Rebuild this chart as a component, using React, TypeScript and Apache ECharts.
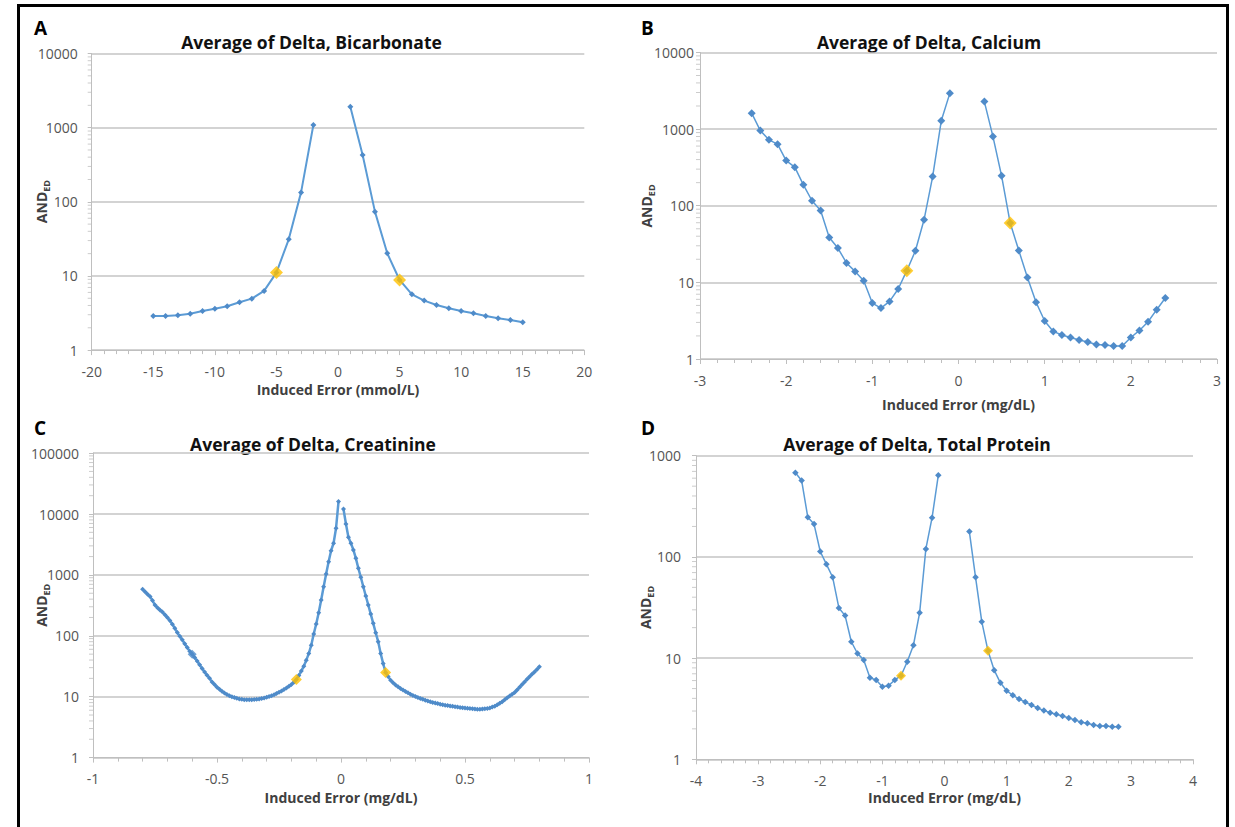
import React, { useEffect, useRef } from "react";
import * as echarts from "echarts";

const FONT = '"Open Sans", "Noto Sans", sans-serif';

// ---------- Panel A: Bicarbonate ----------
const bicarbX = [-15, -14, -13, -12, -11, -10, -9, -8, -7, -6, -5, -4, -3, -2, -1, 0, 1, 2, 3, 4, 5, 6, 7, 8, 9, 10, 11, 12, 13, 14, 15];
const bicarbY = [2.89, 2.89, 2.95, 3.1, 3.37, 3.62, 3.9, 4.42, 4.94, 6.28, 11.1, 31.2, 134, 1087, null, null, 1920, 428, 73.7, 20.2, 8.83, 5.66, 4.65, 4.06, 3.67, 3.37, 3.14, 2.89, 2.69, 2.55, 2.37];
const bicarbHighlightX = [-5, 5];

// ---------- Panel B: Calcium ----------
const calciumX = [-2.4, -2.3, -2.2, -2.1, -2.0, -1.9, -1.8, -1.7, -1.6, -1.5, -1.4, -1.3, -1.2, -1.1, -1.0, -0.9, -0.8, -0.7, -0.6, -0.5, -0.4, -0.3, -0.2, -0.1, 0, 0.1, 0.2, 0.3, 0.4, 0.5, 0.6, 0.7, 0.8, 0.9, 1.0, 1.1, 1.2, 1.3, 1.4, 1.5, 1.6, 1.7, 1.8, 1.9, 2.0, 2.1, 2.2, 2.3, 2.4];
const calciumY = [1610, 955, 723, 635, 388, 318, 187, 116, 86.5, 38.5, 28, 17.9, 13.9, 10.5, 5.37, 4.62, 5.64, 8.18, 14.2, 25.8, 65.5, 240, 1280, 2940, null, null, null, 2280, 798, 245, 59.3, 26, 11.6, 5.5, 3.13, 2.29, 2.06, 1.91, 1.77, 1.67, 1.55, 1.52, 1.48, 1.48, 1.91, 2.36, 3.06, 4.4, 6.24];
const calciumHighlightX = [-0.6, 0.6];

// ---------- Panel C: Creatinine (step 0.01) ----------
const creatinineLeftY = [
  580, 530, 480, 440, 380, 320, 290, 265, 245, 222,
  200, 178, 155, 133, 113, 98, 86, 74, 64, 56,
  50, 44, 38.5, 33.5, 29, 25.5, 22.5, 20, 17.5, 15.8,
  14.3, 13.2, 12.3, 11.5, 10.9, 10.4, 10.0, 9.7, 9.4, 9.2,
  9.05, 8.95, 8.9, 8.9, 8.95, 9.0, 9.1, 9.2, 9.35, 9.55,
  9.8, 10.1, 10.4, 10.8, 11.3, 11.8, 12.4, 13.1, 13.9, 14.8,
  15.8, 17.2, 19.2, 22.3, 26.3, 31.7, 39.8, 51, 70, 107,
  156, 239, 386, 640, 1035, 1650, 2500, 3310, 5840, 16000,
];
const creatinineRightY = [
  12100, 6870, 4150, 3310, 2570, 1870, 1285, 914, 640, 450,
  320, 227, 160, 112, 80, 51, 35, 25, 21.5, 18.7,
  17.0, 15.6, 14.5, 13.6, 12.9, 12.2, 11.6, 11.0, 10.5, 10.1,
  9.7, 9.35, 9.05, 8.75, 8.5, 8.25, 8.05, 7.85, 7.7, 7.55,
  7.4, 7.27, 7.15, 7.05, 6.95, 6.85, 6.75, 6.67, 6.6, 6.52,
  6.45, 6.4, 6.35, 6.3, 6.25, 6.25, 6.3, 6.35, 6.4, 6.5,
  6.75, 7.0, 7.35, 7.8, 8.3, 8.9, 9.6, 10.3, 11.0, 11.7,
  12.9, 14.3, 15.8, 17.5, 19.3, 21.2, 23.3, 25.5, 28, 31,
];
const creatinineStep = 0.01;
const creatinineX = Array.from({ length: 161 }, (_, i) => +(-0.8 + i * creatinineStep).toFixed(2));
const creatinineY = [...creatinineLeftY, null, ...creatinineRightY];
const creatinineHighlightX = [-0.18, 0.18];
const creatinineMarkedX = [-0.6];

// ---------- Panel D: Total Protein ----------
const proteinX = [-2.4, -2.3, -2.2, -2.1, -2.0, -1.9, -1.8, -1.7, -1.6, -1.5, -1.4, -1.3, -1.2, -1.1, -1.0, -0.9, -0.8, -0.7, -0.6, -0.5, -0.4, -0.3, -0.2, -0.1, 0, 0.1, 0.2, 0.3, 0.4, 0.5, 0.6, 0.7, 0.8, 0.9, 1.0, 1.1, 1.2, 1.3, 1.4, 1.5, 1.6, 1.7, 1.8, 1.9, 2.0, 2.1, 2.2, 2.3, 2.4, 2.5, 2.6, 2.7, 2.8];
const proteinY = [679, 570, 246, 211, 113, 84.5, 62.9, 31.3, 26.3, 14.5, 11.1, 9.6, 6.4, 6.08, 5.22, 5.34, 6.08, 6.7, 9.2, 13.4, 28.1, 120, 244, 640, null, null, null, null, 178, 62.8, 22.9, 11.8, 7.6, 5.7, 4.76, 4.29, 3.94, 3.68, 3.44, 3.21, 3.03, 2.89, 2.79, 2.68, 2.56, 2.45, 2.32, 2.27, 2.18, 2.13, 2.13, 2.1, 2.1];
const proteinHighlightX = [-0.7, 0.7];

const BLUE_LINE = "#5B9BD5";
const BLUE_MARK = "#4F8BC9";
const GOLD = "#FFC000";
const GRID_GREY = "#c4c4c4";
const AXIS_GREY = "#bfbfbf";

const panels = [
  {
    letter: "A", title: "Average of Delta, Bicarbonate", xName: "Induced Error (mmol/L)",
    x: bicarbX, y: bicarbY, hx: bicarbHighlightX, mx: [] as number[],
    grid: { left: 91.7, top: 53.5, width: 492.6, height: 296.6 },
    xMin: -20, xMax: 20, xInterval: 5, yMax: 10000,
    sym: 6, hsym: 13, lw: 2, yLabelMargin: 14, xNameGap: 32,
    letterPos: [34, 28], titlePos: [311.5, 42], yNamePos: [41.5, 201.6],
  },
  {
    letter: "B", title: "Average of Delta, Calcium", xName: "Induced Error (mg/dL)",
    x: calciumX, y: calciumY, hx: calciumHighlightX, mx: [] as number[],
    grid: { left: 700, top: 52.4, width: 517, height: 306.6 },
    xMin: -3, xMax: 3, xInterval: 1, yMax: 10000,
    sym: 8, hsym: 13, lw: 1.5, yLabelMargin: 6, xNameGap: 38,
    letterPos: [641, 28], titlePos: [929, 42], yNamePos: [646.6, 206],
  },
  {
    letter: "C", title: "Average of Delta, Creatinine", xName: "Induced Error (mg/dL)",
    x: creatinineX, y: creatinineY, hx: creatinineHighlightX, mx: creatinineMarkedX,
    grid: { left: 93, top: 453.1, width: 496, height: 304.5 },
    xMin: -1, xMax: 1, xInterval: 0.5, yMax: 100000,
    sym: 5, hsym: 11, lw: 2.5, yLabelMargin: 14, xNameGap: 33,
    letterPos: [34, 428], titlePos: [313, 444], yNamePos: [41.5, 605.3],
  },
  {
    letter: "D", title: "Average of Delta, Total Protein", xName: "Induced Error (mg/dL)",
    x: proteinX, y: proteinY, hx: proteinHighlightX, mx: [] as number[],
    grid: { left: 696, top: 455.7, width: 497, height: 303.6 },
    xMin: -4, xMax: 4, xInterval: 1, yMax: 1000,
    sym: 6.5, hsym: 10, lw: 1.5, yLabelMargin: 15, xNameGap: 31,
    letterPos: [641, 428], titlePos: [917, 444], yNamePos: [645.6, 607.5],
  },
];

function buildOption() {
  const grid: any[] = [];
  const xAxis: any[] = [];
  const yAxis: any[] = [];
  const series: any[] = [];
  const graphic: any[] = [];

  graphic.push({
    type: "rect", silent: true,
    shape: { x: 18.5, y: 5.5, width: 1209, height: 860 },
    style: { fill: "none", stroke: "#000", lineWidth: 3 },
  });

  panels.forEach((p, i) => {
    grid.push({ ...p.grid, containLabel: false });
    xAxis.push({
      type: "value", gridIndex: i, min: p.xMin, max: p.xMax, interval: p.xInterval,
      name: p.xName, nameLocation: "middle", nameGap: p.xNameGap,
      nameTextStyle: { fontFamily: FONT, fontSize: 14, fontWeight: "bold", color: "#404040" },
      axisLine: { show: true, onZero: false, lineStyle: { color: AXIS_GREY, width: 1 } },
      axisTick: { show: true, length: 5, lineStyle: { color: AXIS_GREY } },
      minorTick: { show: true, splitNumber: 5, length: 4, lineStyle: { color: AXIS_GREY } },
      splitLine: { show: false },
      axisLabel: { fontFamily: FONT, fontSize: 14, color: "#555555", margin: 14 },
    });
    const decades = Math.round(Math.log10(p.yMax));
    yAxis.push({
      type: "log", logBase: 10, gridIndex: i, min: 1, max: p.yMax,
      axisLine: { show: true, onZero: false, lineStyle: { color: AXIS_GREY, width: 1 } },
      axisTick: { show: true, length: 4, lineStyle: { color: AXIS_GREY } },
      splitLine: { show: true, lineStyle: { color: GRID_GREY, width: 1.5 } },
      axisLabel: {
        fontFamily: FONT, fontSize: 14, color: "#555555", margin: p.yLabelMargin,
        formatter: (v: number) => String(Math.round(v)),
      },
    });

    const lineData = p.x.map((xv, k) => [xv, p.y[k] == null ? "-" : p.y[k]]);
    series.push({
      type: "line", xAxisIndex: i, yAxisIndex: i, data: lineData,
      connectNulls: false, symbol: "diamond", symbolSize: p.sym, showSymbol: true,
      itemStyle: { color: BLUE_MARK },
      lineStyle: { color: BLUE_LINE, width: p.lw },
      z: 3,
    });
    if (p.mx.length) {
      series.push({
        type: "scatter", xAxisIndex: i, yAxisIndex: i,
        data: p.mx.map((xv) => [xv, p.y[p.x.indexOf(xv)]]),
        symbol: "diamond", symbolSize: 9, itemStyle: { color: BLUE_MARK }, z: 4,
      });
    }
    series.push({
      type: "scatter", xAxisIndex: i, yAxisIndex: i,
      data: p.hx.map((xv) => [xv, p.y[p.x.indexOf(xv)]]),
      symbol: "diamond", symbolSize: p.hsym, itemStyle: { color: GOLD }, z: 5,
    });
    // log minor ticks on the y axis (2..9 in each decade)
    const minor: number[][] = [];
    for (let d = 0; d < decades; d++) {
      for (let m = 2; m <= 9; m++) minor.push([p.xMin, m * Math.pow(10, d)]);
    }
    series.push({
      type: "scatter", xAxisIndex: i, yAxisIndex: i, data: minor, silent: true, clip: false,
      symbol: "rect", symbolSize: [4, 1], symbolOffset: [-2, 0],
      itemStyle: { color: AXIS_GREY }, z: 1,
    });

    graphic.push({
      type: "text", x: p.letterPos[0], y: p.letterPos[1], silent: true,
      style: { text: p.letter, fontFamily: FONT, fontSize: 19, fontWeight: "bold", fill: "#000", align: "left", verticalAlign: "middle" },
    });
    graphic.push({
      type: "text", x: p.titlePos[0], y: p.titlePos[1], silent: true,
      style: { text: p.title, fontFamily: FONT, fontSize: 17.5, fontWeight: "bold", fill: "#111", align: "center", verticalAlign: "middle" },
    });
    graphic.push({
      type: "text", x: p.yNamePos[0], y: p.yNamePos[1], rotation: Math.PI / 2, silent: true,
      style: {
        text: "{a|AND}{b|ED}", align: "center", verticalAlign: "middle",
        rich: {
          a: { fontFamily: FONT, fontSize: 14, fontWeight: "bold", fill: "#404040", lineHeight: 18 },
          b: { fontFamily: FONT, fontSize: 9, fontWeight: "bold", fill: "#404040", lineHeight: 10, verticalAlign: "bottom" },
        },
      },
    });
  });

  return { animation: false, backgroundColor: "#fff", grid, xAxis, yAxis, series, graphic };
}

export default function App() {
  const ref = useRef<HTMLDivElement>(null);
  useEffect(() => {
    if (!ref.current) return;
    const chart = echarts.init(ref.current, undefined, { renderer: "svg" });
    chart.setOption(buildOption() as any);
    return () => chart.dispose();
  }, []);
  return (
    <div
      ref={ref}
      style={{ position: "fixed", left: 0, top: 0, width: 1235, height: 827, background: "#fff" }}
    />
  );
}
